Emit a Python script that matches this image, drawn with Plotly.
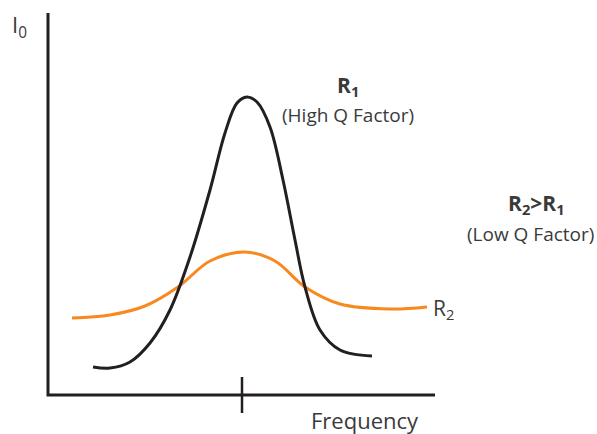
import plotly.graph_objects as go

H = 434

# R1 - high Q (narrow, tall) response
r1_x = [93, 110, 130, 150, 170, 190, 210, 225, 237, 247, 257, 270, 283, 295, 305, 320, 340, 372]
r1_y = [367, 368, 362, 343, 310, 257, 190, 133, 103, 97, 102, 127, 180, 240, 287, 330, 350, 356]

# R2 - low Q (broad, flat) response
r2_x = [72, 110, 145, 178, 210, 245, 275, 305, 340, 390, 427]
r2_y = [318, 315, 306, 287, 261, 252, 261, 287, 304, 309, 307]

BLACK = '#231F20'
ORANGE = '#F7891F'
TXT = '#3a3a3a'
FONT = 'Open Sans'

fig = go.Figure()

# axes drawn as plain lines
fig.add_trace(go.Scatter(x=[48, 48, 435], y=[H - 13, H - 395, H - 395], mode='lines',
                         line=dict(color=BLACK, width=3), hoverinfo='skip'))
fig.add_trace(go.Scatter(x=[242, 242], y=[H - 377, H - 413], mode='lines',
                         line=dict(color=BLACK, width=2.5), hoverinfo='skip'))

fig.add_trace(go.Scatter(x=r2_x, y=[H - v for v in r2_y], mode='lines', line_shape='spline',
                         line=dict(color=ORANGE, width=3, smoothing=1)))
fig.add_trace(go.Scatter(x=r1_x, y=[H - v for v in r1_y], mode='lines', line_shape='spline',
                         line=dict(color=BLACK, width=3, smoothing=1)))

def label(x, y, text, size, xanchor='center', bold=False):
    if bold:
        text = '<b>' + text + '</b>'
    fig.add_annotation(x=x, y=H - y, text=text, showarrow=False, xanchor=xanchor,
                       font=dict(family=FONT, size=size, color=TXT))

label(10, 26, 'I<sub>0</sub>', 22, xanchor='left')
label(365, 420, 'Frequency', 22)
label(348, 86, 'R<sub>1</sub>', 21, bold=True)
label(348, 115, '(High Q Factor)', 19)
label(536, 204, 'R<sub>2</sub>&gt;R<sub>1</sub>', 21, bold=True)
label(530, 234, '(Low Q Factor)', 19)
label(431, 309, 'R<sub>2</sub>', 21, xanchor='left')

fig.update_layout(width=597, height=434, margin=dict(l=0, r=0, t=0, b=0),
                  showlegend=False, paper_bgcolor='white', plot_bgcolor='white')
fig.update_xaxes(range=[0, 597], visible=False, fixedrange=True)
fig.update_yaxes(range=[0, H], visible=False, fixedrange=True)

fig.write_html('out.html', config={'displayModeBar': False},
               post_script="document.body.style.margin='0';")
